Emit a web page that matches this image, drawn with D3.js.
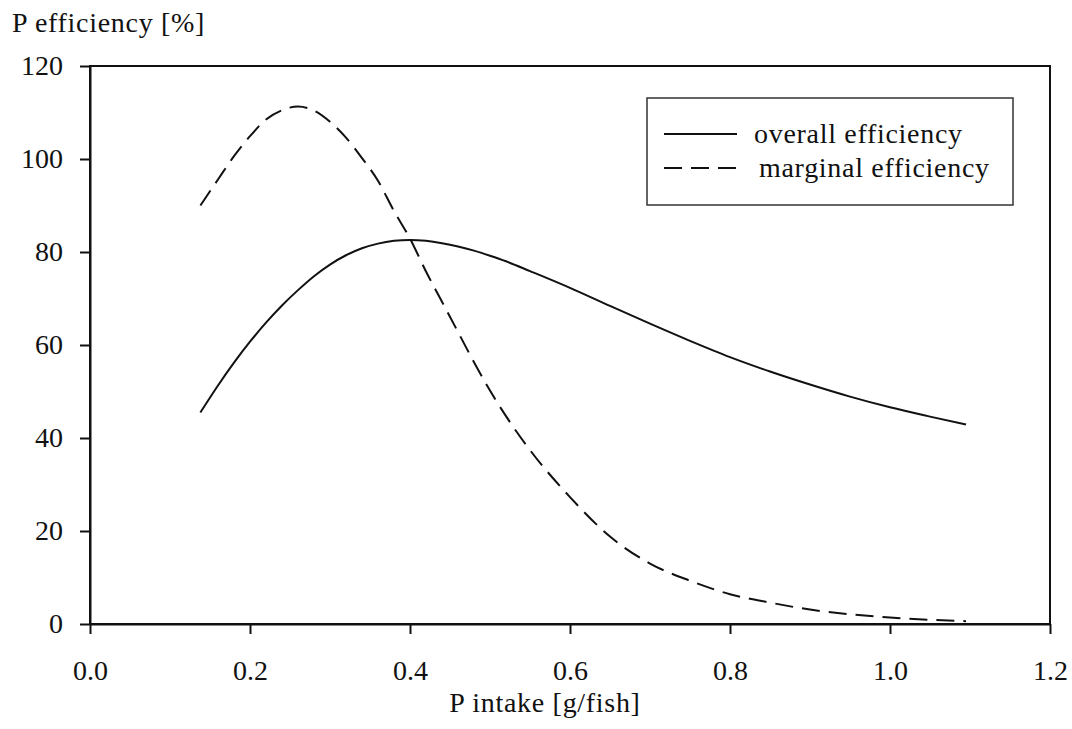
<!DOCTYPE html>
<html>
<head>
<meta charset="utf-8">
<script src="https://cdn.jsdelivr.net/npm/d3@7"></script>
<style>
  body { margin: 0; background: #fff; }
  text { font-family: "Liberation Serif", "Times New Roman", serif; fill: #111; }
  .label { letter-spacing: 0.7px; }
</style>
</head>
<body>
<div id="chart"></div>
<script>
// P intake (g/fish) at which the curves were read
var intake = [0.138, 0.16, 0.18, 0.20, 0.22, 0.24, 0.26, 0.28, 0.30, 0.32, 0.34, 0.36, 0.38,
  0.40, 0.42, 0.44, 0.46, 0.48, 0.50, 0.52, 0.55, 0.60, 0.65, 0.70, 0.75, 0.80, 0.85,
  0.90, 0.95, 1.00, 1.05, 1.095];

var overall = [45.5, 51.3, 56.2, 60.7, 64.8, 68.5, 71.8, 74.8, 77.3, 79.3, 80.8, 81.8, 82.4,
  82.6, 82.4, 81.9, 81.2, 80.3, 79.2, 78.0, 75.9, 72.3, 68.4, 64.6, 60.9, 57.4, 54.3,
  51.5, 48.9, 46.6, 44.6, 42.9];

var marginal = [90.0, 95.6, 100.6, 104.9, 108.5, 110.5, 111.3, 110.4, 108.0, 104.6, 100.2, 95.3, 88.8,
  82.9, 75.8, 69.3, 62.8, 56.3, 50.2, 44.7, 37.4, 27.3, 18.8, 13.0, 9.3, 6.4, 4.6,
  3.1, 2.1, 1.4, 0.9, 0.6];

var xTicks = [0, 0.2, 0.4, 0.6, 0.8, 1.0, 1.2];
var yTicks = [0, 20, 40, 60, 80, 100, 120];

var seriesNames = ["overall efficiency", "marginal efficiency"];

var svgWidth = 1072;
var svgHeight = 729;
var margin = { top: 66, right: 22, bottom: 105, left: 90 };
var width = svgWidth - margin.left - margin.right;
var height = svgHeight - margin.top - margin.bottom;

var svg = d3.select("#chart")
  .append("svg")
  .attr("width", svgWidth)
  .attr("height", svgHeight);

var g = svg.append("g")
  .attr("transform", "translate(" + margin.left + "," + margin.top + ")");

var x = d3.scaleLinear().domain([0, 1.2]).range([0, width]);
var y = d3.scaleLinear().domain([0, 120]).range([height, 0]);

// frame
g.append("rect")
  .attr("x", 0).attr("y", 0)
  .attr("width", width).attr("height", height)
  .attr("fill", "none")
  .attr("stroke", "#111")
  .attr("stroke-width", 2);

var xAxis = g.append("g")
  .attr("transform", "translate(0," + height + ")")
  .call(d3.axisBottom(x).tickValues(xTicks).tickFormat(d3.format(".1f"))
    .tickSize(10).tickSizeOuter(0).tickPadding(26));

var yAxis = g.append("g")
  .call(d3.axisLeft(y).tickValues(yTicks).tickFormat(d3.format("d"))
    .tickSize(10).tickSizeOuter(0).tickPadding(17));

[xAxis, yAxis].forEach(function(ax) {
  ax.select(".domain").attr("stroke", "#111").attr("stroke-width", 2);
  ax.selectAll(".tick line").attr("stroke", "#111").attr("stroke-width", 2);
  ax.selectAll(".tick text")
    .attr("font-family", "Liberation Serif")
    .attr("font-size", 28)
    .attr("fill", "#111");
});

var rows = intake.map(function(d, i) {
  return { x: d, overall: overall[i], marginal: marginal[i] };
});

var lineOverall = d3.line()
  .x(function(d) { return x(d.x); })
  .y(function(d) { return y(d.overall); })
  .curve(d3.curveMonotoneX);

var lineMarginal = d3.line()
  .x(function(d) { return x(d.x); })
  .y(function(d) { return y(d.marginal); })
  .curve(d3.curveMonotoneX);

g.append("path")
  .datum(rows)
  .attr("d", lineOverall)
  .attr("fill", "none")
  .attr("stroke", "#111")
  .attr("stroke-width", 2);

g.append("path")
  .datum(rows)
  .attr("d", lineMarginal)
  .attr("fill", "none")
  .attr("stroke", "#111")
  .attr("stroke-width", 2)
  .attr("stroke-dasharray", "18,9");

// axis titles
svg.append("text")
  .attr("class", "label")
  .attr("x", 12)
  .attr("y", 32)
  .attr("font-size", 28)
  .text("P efficiency [%]");

svg.append("text")
  .attr("class", "label")
  .attr("x", 545)
  .attr("y", 712)
  .attr("text-anchor", "middle")
  .attr("font-size", 28)
  .text("P intake [g/fish]");

// legend
var legend = svg.append("g");
legend.append("rect")
  .attr("x", 647).attr("y", 98)
  .attr("width", 366).attr("height", 107)
  .attr("fill", "none")
  .attr("stroke", "#333")
  .attr("stroke-width", 1.5);

var legendRows = [
  { name: seriesNames[0], dash: null, ly: 134, tx: 754, ty: 143 },
  { name: seriesNames[1], dash: "18,9", ly: 168, tx: 759, ty: 177 }
];

legendRows.forEach(function(r) {
  legend.append("line")
    .attr("x1", 664).attr("x2", 737)
    .attr("y1", r.ly).attr("y2", r.ly)
    .attr("stroke", "#111")
    .attr("stroke-width", 2)
    .attr("stroke-dasharray", r.dash);
  legend.append("text")
    .attr("class", "label")
    .attr("x", r.tx)
    .attr("y", r.ty)
    .attr("font-size", 28)
    .text(r.name);
});
</script>
</body>
</html>
